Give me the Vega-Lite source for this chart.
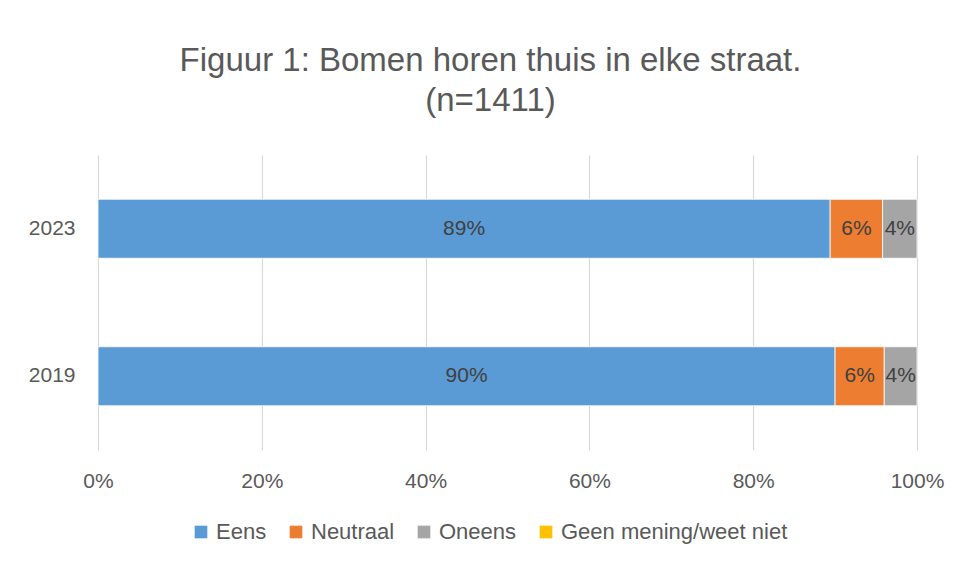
{
  "$schema": "https://vega.github.io/schema/vega-lite/v6.json",
  "width": 819,
  "height": 295,
  "autosize": "none",
  "padding": {"left": 98, "top": 155, "right": 46, "bottom": 112},
  "background": "white",
  "config": {
    "font": "Liberation Sans",
    "view": {"stroke": null}
  },
  "title": {
    "text": ["Figuur 1: Bomen horen thuis in elke straat.", "(n=1411)"],
    "fontSize": 33,
    "fontWeight": "normal",
    "color": "#595959",
    "lineHeight": 40,
    "offset": 37,
    "dx": -17,
    "anchor": "middle"
  },
  "data": {
    "values": [
      {"jaar": "2023", "antwoord": "Eens", "waarde": 0.894},
      {"jaar": "2023", "antwoord": "Neutraal", "waarde": 0.064},
      {"jaar": "2023", "antwoord": "Oneens", "waarde": 0.042},
      {"jaar": "2023", "antwoord": "Geen mening/weet niet", "waarde": 0},
      {"jaar": "2019", "antwoord": "Eens", "waarde": 0.900},
      {"jaar": "2019", "antwoord": "Neutraal", "waarde": 0.060},
      {"jaar": "2019", "antwoord": "Oneens", "waarde": 0.040},
      {"jaar": "2019", "antwoord": "Geen mening/weet niet", "waarde": 0}
    ]
  },
  "transform": [
    {"calculate": "indexof(['Eens','Neutraal','Oneens','Geen mening/weet niet'], datum.antwoord)", "as": "orde"},
    {"stack": "waarde", "groupby": ["jaar"], "sort": [{"field": "orde", "order": "ascending"}], "as": ["v0", "v1"]},
    {"calculate": "(datum.v0 + datum.v1) / 2", "as": "midden"}
  ],
  "encoding": {
    "y": {
      "field": "jaar",
      "type": "nominal",
      "sort": ["2023", "2019"],
      "scale": {"paddingInner": 0.6, "paddingOuter": 0.3},
      "axis": {
        "title": null,
        "domain": false,
        "ticks": false,
        "labelFontSize": 21,
        "labelColor": "#595959",
        "labelPadding": 23
      }
    }
  },
  "layer": [
    {
      "mark": {"type": "bar", "stroke": "white", "strokeWidth": 0.8},
      "transform": [{"filter": "datum.waarde > 0"}],
      "encoding": {
        "x": {
          "field": "v0",
          "type": "quantitative",
          "scale": {"domain": [0, 1], "nice": false},
          "axis": {
            "title": null,
            "format": ".0%",
            "values": [0, 0.2, 0.4, 0.6, 0.8, 1],
            "domain": false,
            "ticks": false,
            "grid": true,
            "gridColor": "#D9D9D9",
            "gridWidth": 1.2,
            "labelFlush": false,
            "labelFontSize": 21,
            "labelColor": "#595959",
            "labelPadding": 20
          }
        },
        "x2": {"field": "v1"},
        "color": {
          "field": "antwoord",
          "type": "nominal",
          "scale": {
            "domain": ["Eens", "Neutraal", "Oneens", "Geen mening/weet niet"],
            "range": ["#5B9BD5", "#ED7D31", "#A5A5A5", "#FFC000"]
          },
          "legend": {
            "title": null,
            "orient": "none",
            "direction": "horizontal",
            "legendX": 92,
            "legendY": 366,
            "symbolType": "square",
            "symbolSize": 160,
            "symbolStrokeWidth": 0,
            "labelFontSize": 22,
            "labelColor": "#595959",
            "labelOffset": 4,
            "labelLimit": 400,
            "columnPadding": 18
          }
        }
      }
    },
    {
      "mark": {"type": "text", "fontSize": 21, "color": "#404040"},
      "transform": [{"filter": "datum.waarde > 0"}],
      "encoding": {
        "x": {"field": "midden", "type": "quantitative"},
        "text": {"field": "waarde", "type": "quantitative", "format": ".0%"}
      }
    }
  ]
}
